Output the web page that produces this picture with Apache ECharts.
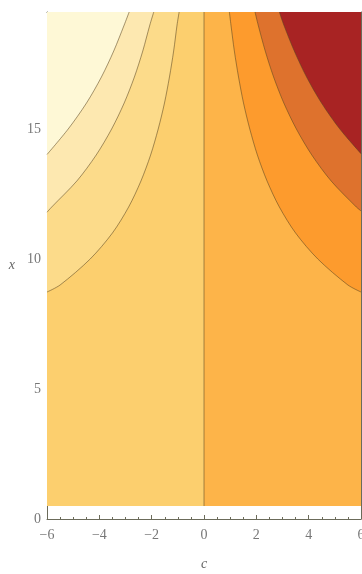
<!DOCTYPE html>
<html>
<head>
<meta charset="utf-8">
<script src="https://cdn.jsdelivr.net/npm/echarts@6/dist/echarts.min.js"></script>
<style>
  html, body { margin: 0; padding: 0; background: #fff; }
  #chart { width: 362px; height: 574px; }
</style>
</head>
<body>
<div id="chart"></div>
<script>
// plotted domain
const cRange = [-6, 6]
const xRange = [0, 19.5]
const fillBottom = 0.5

// contour lines, [c, x] pairs
const left1 = [[-6, 8.73], [-5.5, 9], [-4.35, 10], [-3.5, 11], [-2.88, 12], [-2.41, 13], [-2.04, 14], [-1.75, 15], [-1.51, 16], [-1.32, 17], [-1.16, 18], [-1.03, 19], [-0.95, 19.5]]
const left2 = [[-6, 11.8], [-5.82, 12], [-4.86, 13], [-4.12, 14], [-3.53, 15], [-3.05, 16], [-2.66, 17], [-2.34, 18], [-2.07, 19], [-1.92, 19.5]]
const left3 = [[-6, 14.02], [-5.19, 15], [-4.49, 16], [-3.92, 17], [-3.45, 18], [-3.05, 19], [-2.86, 19.5]]
const right1 = [[6, 8.73], [5.5, 9], [4.35, 10], [3.5, 11], [2.88, 12], [2.41, 13], [2.04, 14], [1.75, 15], [1.51, 16], [1.32, 17], [1.16, 18], [1.03, 19], [0.97, 19.5]]
const right2 = [[6, 11.85], [5.82, 12], [4.86, 13], [4.12, 14], [3.53, 15], [3.05, 16], [2.66, 17], [2.34, 18], [2.07, 19], [1.95, 19.5]]
const right3 = [[6, 14.05], [5.19, 15], [4.49, 16], [3.92, 17], [3.45, 18], [3.05, 19], [2.88, 19.5]]
const zeroLine = [[0, fillBottom], [0, xRange[1]]]

// band colours, lightest to darkest
const bandColors = ['#fef8d6', '#fde8b0', '#fcdb8a', '#fccf6e', '#fdb449', '#fd9b2d', '#de722d', '#a82323']

const lineColor = 'rgba(90,70,35,0.55)'
const axisColor = '#6b6b5a'
const labelFont = 'Liberation Serif'

const chart = echarts.init(document.getElementById('chart'))

// a band = area between a line and the top of the plot
function band(data, color, withLine) {
  return {
    type: 'line',
    data: data,
    smooth: 0.3,
    showSymbol: false,
    silent: true,
    lineStyle: withLine ? {color: lineColor, width: 1} : {width: 0},
    areaStyle: {color: color, opacity: 1, origin: 'end'},
  }
}

const tickLabel = v => (v < 0 ? '\u2212' : '') + Math.abs(v)

// frame axis (no labels) for top / right
function frameAxis(pos, range, interval, minor) {
  return {
    type: 'value', position: pos, min: range[0], max: range[1], interval: interval,
    axisLine: {onZero: false, lineStyle: {color: axisColor, width: 1}},
    axisTick: {inside: true, length: 4, lineStyle: {color: axisColor}},
    minorTick: {show: true, splitNumber: minor, length: 2, lineStyle: {color: axisColor}},
    axisLabel: {show: false},
    splitLine: {show: false},
  }
}

const option = {
  animation: false,
  grid: {left: 47, right: 1, top: 12, bottom: 55, outerBoundsMode: 'none'},
  xAxis: [{
    type: 'value', position: 'bottom', min: cRange[0], max: cRange[1], interval: 2,
    name: 'c', nameLocation: 'middle', nameGap: 38,
    nameTextStyle: {fontFamily: labelFont, fontStyle: 'italic', fontSize: 14, color: '#666'},
    axisLine: {onZero: false, lineStyle: {color: axisColor, width: 1}},
    axisTick: {inside: true, length: 4, lineStyle: {color: axisColor}},
    minorTick: {show: true, splitNumber: 4, length: 2, lineStyle: {color: axisColor}},
    axisLabel: {formatter: tickLabel, margin: 9, fontFamily: labelFont, fontSize: 14, color: '#777'},
    splitLine: {show: false},
  }, frameAxis('top', cRange, 2, 4)],
  yAxis: [{
    type: 'value', position: 'left', min: xRange[0], max: xRange[1], interval: 5,
    name: 'x', nameLocation: 'middle', nameGap: 32, nameRotate: 0,
    nameTextStyle: {fontFamily: labelFont, fontStyle: 'italic', fontSize: 14, color: '#666'},
    axisLine: {onZero: false, lineStyle: {color: axisColor, width: 1}},
    axisTick: {inside: true, length: 4, lineStyle: {color: axisColor}},
    minorTick: {show: true, splitNumber: 5, length: 2, lineStyle: {color: axisColor}},
    axisLabel: {showMaxLabel: false, margin: 6, fontFamily: labelFont, fontSize: 14, color: '#777'},
    splitLine: {show: false},
  }, frameAxis('right', xRange, 5, 5)],
  series: [
    band([[cRange[0], fillBottom], [0, fillBottom]], bandColors[3], false),
    band([[0, fillBottom], [cRange[1], fillBottom]], bandColors[4], false),
    band(left1, bandColors[2], true),
    band(left2, bandColors[1], true),
    band(left3, bandColors[0], true),
    band(right1, bandColors[5], true),
    band(right2, bandColors[6], true),
    band(right3, bandColors[7], true),
    {
      type: 'line',
      data: zeroLine,
      showSymbol: false,
      silent: true,
      lineStyle: {color: lineColor, width: 1},
    },
  ],
}

chart.setOption(option)
</script>
</body>
</html>
